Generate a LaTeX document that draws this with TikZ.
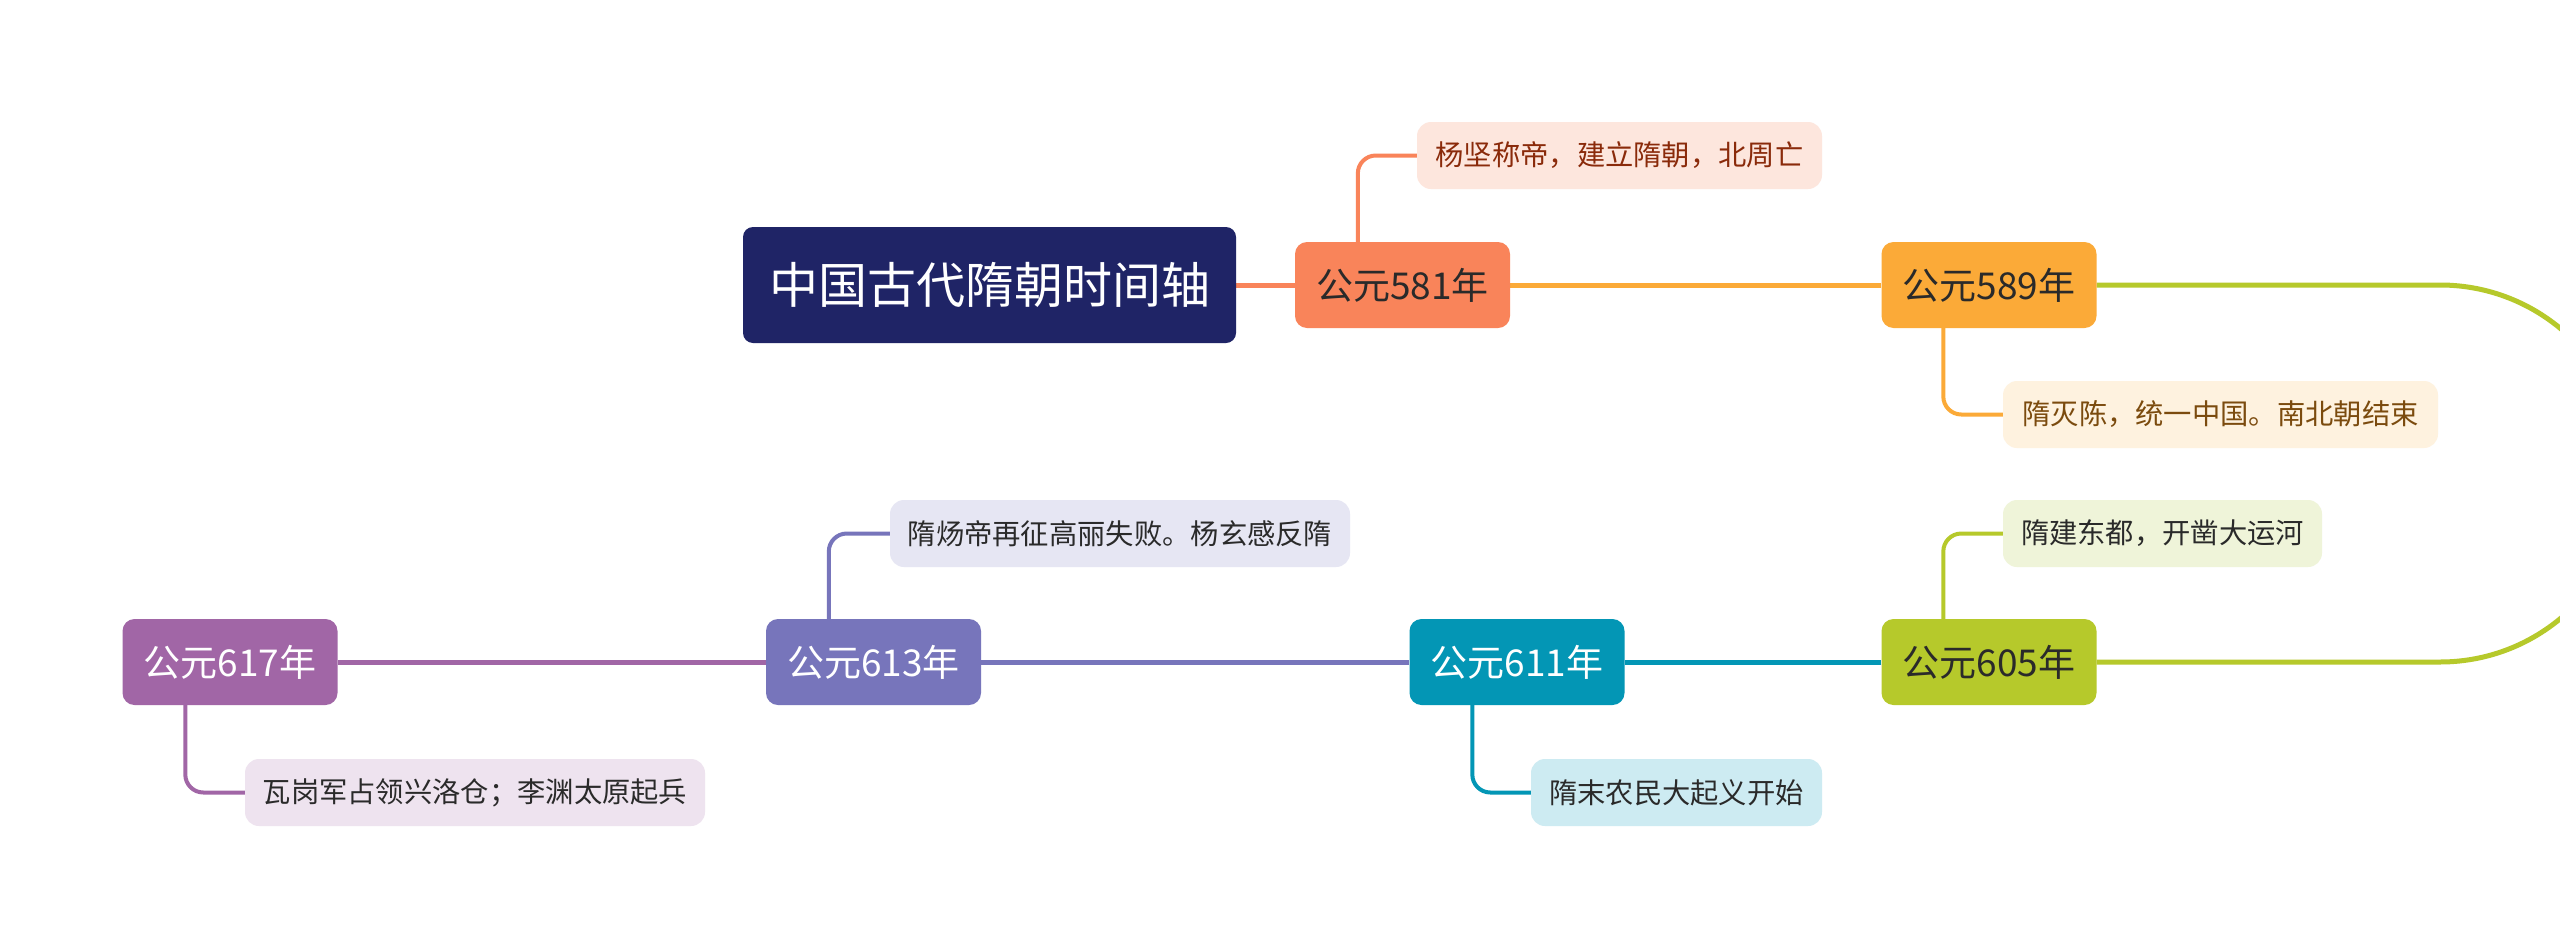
\documentclass[tikz,border=0pt]{standalone}
\usepackage{fontspec}
\setmainfont{Noto Sans CJK SC}
\usetikzlibrary{backgrounds}
\definecolor{rootc}{HTML}{1F2466}
\definecolor{cA}{HTML}{F9845A}
\definecolor{cB}{HTML}{FBAA38}
\definecolor{cC}{HTML}{B6C92B}
\definecolor{cD}{HTML}{0396B5}
\definecolor{cE}{HTML}{7775BB}
\definecolor{cF}{HTML}{A166A6}
\definecolor{lA}{HTML}{FDE6DD}
\definecolor{lB}{HTML}{FEF2DF}
\definecolor{lC}{HTML}{EFF4D9}
\definecolor{lD}{HTML}{CDEBF2}
\definecolor{lE}{HTML}{E6E6F3}
\definecolor{lF}{HTML}{EEE3EF}
\definecolor{tA}{HTML}{8A2A0A}
\definecolor{tB}{HTML}{7B4B0E}
\definecolor{tdark}{HTML}{2A2A2A}
\tikzset{
  rootbox/.style={fill=rootc, text=white, rounded corners=10pt, inner sep=0pt,
    minimum width=493pt, minimum height=116pt, font=\fontsize{49}{58}\selectfont},
  yearbox/.style={fill=#1, rounded corners=12pt, inner sep=0pt,
    minimum width=215pt, minimum height=86pt, font=\fontsize{37}{44}\selectfont},
  leafbox/.style={fill=#1, rounded corners=14pt, inner sep=0pt,
    minimum height=67pt, font=\fontsize{28.3}{34}\selectfont, text=tdark},
  mainline/.style={draw=#1, line width=5pt},
  leafline/.style={draw=#1, line width=4pt, rounded corners=18pt},
}
\begin{document}
\begin{tikzpicture}[x=1pt,y=-1pt]
\clip (0,0) rectangle (2560,948);
% main nodes
\node[rootbox] (root) at (989.5,285) {中国古代隋朝时间轴};
\node[yearbox=cA, text=tdark] (n581) at (1402.5,285) {公元581年};
\node[yearbox=cB, text=tdark] (n589) at (1989,285) {公元589年};
\node[yearbox=cC, text=tdark] (n605) at (1989,662) {公元605年};
\node[yearbox=cD, text=white] (n611) at (1517,662) {公元611年};
\node[yearbox=cE, text=white] (n613) at (873.5,662) {公元613年};
\node[yearbox=cF, text=white] (n617) at (230,662) {公元617年};
% leaves
\node[leafbox=lA, minimum width=405pt, text=tA] (L581) at (1619.5,155.5) {杨坚称帝，建立隋朝，北周亡};
\node[leafbox=lB, minimum width=435pt, text=tB] (L589) at (2220.5,414.5) {隋灭陈，统一中国。南北朝结束};
\node[leafbox=lC, minimum width=319pt] (L605) at (2162.5,533.5) {隋建东都，开凿大运河};
\node[leafbox=lD, minimum width=291pt] (L611) at (1676.5,792.5) {隋末农民大起义开始};
\node[leafbox=lE, minimum width=460pt] (L613) at (1120,533.5) {隋炀帝再征高丽失败。杨玄感反隋};
\node[leafbox=lF, minimum width=460pt] (L617) at (475,792.5) {瓦岗军占领兴洛仓；李渊太原起兵};
\coordinate (turnA) at (2440,285);
\coordinate (turnB) at (2440,662);
\begin{scope}[on background layer]
\fill[white] (0,0) rectangle (2560,948);
\draw[mainline=cA] (root.east) -- (n581.west);
\draw[mainline=cB] (n581.east) -- (n589.west);
\draw[mainline=cC] (n589.east) -- (turnA)
  .. controls (2544.1,285) and (2628.5,369.4) .. (2628.5,473.5)
  .. controls (2628.5,577.6) and (2544.1,662) .. (turnB) -- (n605.east);
\draw[mainline=cD] (n605.west) -- (n611.east);
\draw[mainline=cE] (n611.west) -- (n613.east);
\draw[mainline=cF] (n613.west) -- (n617.east);
\draw[leafline=cA] ([xshift=63pt]n581.north west) |- (L581.west);
\draw[leafline=cB] ([xshift=62pt]n589.south west) |- (L589.west);
\draw[leafline=cC] ([xshift=62pt]n605.north west) |- (L605.west);
\draw[leafline=cD] ([xshift=63pt]n611.south west) |- (L611.west);
\draw[leafline=cE] ([xshift=63pt]n613.north west) |- (L613.west);
\draw[leafline=cF] ([xshift=63pt]n617.south west) |- (L617.west);
\end{scope}
\end{tikzpicture}
\end{document}
